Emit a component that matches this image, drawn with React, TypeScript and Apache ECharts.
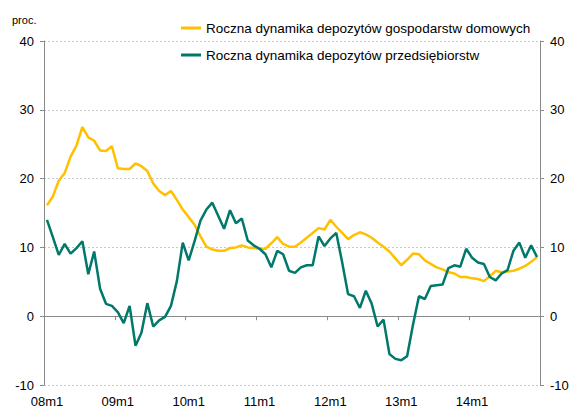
import React, { useEffect, useRef } from "react";
import * as echarts from "echarts";

const years = ["08", "09", "10", "11", "12", "13", "14"];
const categories: string[] = [];
years.forEach((y) => {
  for (let m = 1; m <= 12; m++) categories.push(`${y}m${m}`);
});

const households = [
  16.1, 17.4, 19.7, 20.8, 23.2, 24.8, 27.5, 26.0, 25.5, 24.1, 24.0, 24.7,
  21.5, 21.4, 21.4, 22.2, 21.8, 21.1, 19.3, 18.2, 17.6, 18.2, 16.9, 15.5,
  14.4, 13.3, 11.6, 10.1, 9.7, 9.5, 9.5, 9.9, 10.0, 10.3, 10.0, 9.9,
  9.8, 9.8, 10.6, 11.5, 10.5, 10.1, 10.1, 10.7, 11.4, 12.1, 12.8, 12.6,
  14.0, 13.0, 12.1, 11.2, 11.8, 12.2, 11.9, 11.4, 10.7, 10.1, 9.4, 8.4,
  7.4, 8.2, 9.1, 9.0, 8.1, 7.6, 7.1, 6.8, 6.4, 6.2, 5.7, 5.7,
  5.5, 5.4, 5.1, 5.8, 6.6, 6.4, 6.5, 6.6, 6.9, 7.3, 7.9, 8.6,
];

const enterprises = [
  14.0, 11.5, 8.9, 10.5, 9.1, 9.9, 10.9, 6.1, 9.4, 4.0, 1.8, 1.5,
  0.6, -1.0, 1.5, -4.3, -2.4, 1.9, -1.5, -0.6, -0.1, 1.5, 5.1, 10.7,
  8.1, 10.9, 13.9, 15.5, 16.5, 14.6, 12.7, 15.4, 13.5, 14.2, 11.0, 10.3,
  9.8, 9.0, 7.1, 9.5, 9.0, 6.6, 6.3, 7.1, 7.4, 7.4, 11.6, 10.2,
  11.3, 12.1, 7.8, 3.2, 2.9, 1.2, 3.7, 1.8, -1.5, -0.5, -5.5, -6.2,
  -6.4, -5.8, -1.2, 2.9, 2.5, 4.4, 4.5, 4.6, 7.0, 7.4, 7.2, 9.8,
  8.5, 7.8, 7.6, 5.7, 5.2, 6.2, 6.7, 9.5, 10.7, 8.5, 10.3, 8.6,
];

const seriesNames = [
  "Roczna dynamika depozytów gospodarstw domowych",
  "Roczna dynamika depozytów przedsiębiorstw",
];
const colors = ["#FFC000", "#00796B"];

const FONT = "'Liberation Sans', Arial, sans-serif";

export default function App() {
  const ref = useRef<HTMLDivElement>(null);
  useEffect(() => {
    if (!ref.current) return;
    const chart = echarts.init(ref.current, undefined, { renderer: "svg" });
    const yAxisCommon = {
      type: "value" as const,
      min: -10,
      max: 40,
      interval: 10,
      axisLine: { show: true, lineStyle: { color: "#8a8a8a", width: 1 } },
      axisTick: { show: true, length: 4, lineStyle: { color: "#8a8a8a" } },
      axisLabel: { color: "#000", fontSize: 13, fontFamily: FONT, margin: 10 },
    };
    chart.setOption({
      animation: false,
      backgroundColor: "#fff",
      textStyle: { fontFamily: FONT },
      grid: { left: 44, right: 37, top: 41, bottom: 27, containLabel: false },
      legend: {
        orient: "vertical",
        left: 181,
        top: 21,
        padding: 0,
        itemGap: 13,
        itemWidth: 20,
        itemHeight: 3,
        icon: "rect",
        data: seriesNames,
        textStyle: { color: "#000", fontSize: 13.5, fontFamily: FONT, lineHeight: 14 },
      },
      graphic: [
        {
          type: "text",
          left: 12,
          top: 14,
          style: { text: "proc.", fontSize: 11, fontFamily: FONT, fill: "#000" },
        },
      ],
      xAxis: {
        type: "category",
        data: categories,
        boundaryGap: true,
        axisLine: { show: true, lineStyle: { color: "#8a8a8a" } },
        axisTick: { show: true, interval: 11, length: 4, lineStyle: { color: "#8a8a8a" } },
        axisLabel: { interval: 11, color: "#000", fontSize: 13, fontFamily: FONT, margin: 10 },
        splitLine: { show: false },
      },
      yAxis: [
        {
          ...yAxisCommon,
          position: "left",
          splitLine: { show: true, lineStyle: { color: "#c8c8c8", type: [2, 2], width: 1 } },
        },
        {
          ...yAxisCommon,
          position: "right",
          splitLine: { show: false },
        },
      ],
      series: [
        {
          name: seriesNames[0],
          type: "line",
          data: households,
          yAxisIndex: 0,
          showSymbol: false,
          symbol: "none",
          lineStyle: { color: colors[0], width: 2.5 },
          itemStyle: { color: colors[0] },
          z: 2,
        },
        {
          name: seriesNames[1],
          type: "line",
          data: enterprises,
          yAxisIndex: 0,
          showSymbol: false,
          symbol: "none",
          lineStyle: { color: colors[1], width: 2.5 },
          itemStyle: { color: colors[1] },
          z: 3,
        },
      ],
    });
    return () => chart.dispose();
  }, []);
  return <div ref={ref} style={{ width: 577, height: 412, position: "absolute", left: 0, top: 0 }} />;
}
